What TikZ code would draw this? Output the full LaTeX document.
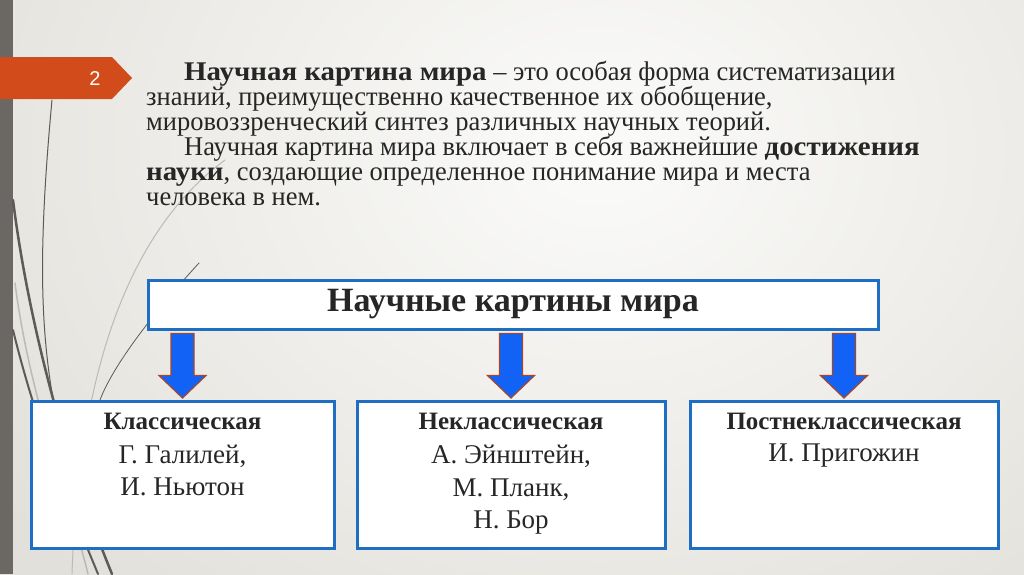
\documentclass[tikz,border=0pt]{standalone}
\usepackage{fontspec}
\setmainfont{Liberation Serif}
\newfontfamily\regcond{Liberation Serif}[FakeStretch=0.98]
\newfontfamily\boldwide{Liberation Serif}[FakeStretch=1.07]
\newfontfamily\numfont{Liberation Sans}
\usetikzlibrary{calc}
\definecolor{bgdark}{HTML}{E2E0DA}
\definecolor{bglight}{HTML}{FBFBFA}
\definecolor{barcol}{HTML}{6B6764}
\definecolor{tagcol}{HTML}{D24B1A}
\definecolor{txt}{HTML}{262626}
\definecolor{boxblue}{HTML}{1E6EC4}
\definecolor{arrfill}{HTML}{1263F5}
\definecolor{arrline}{HTML}{A4452E}
\definecolor{curvedark}{HTML}{5E5A57}
\definecolor{curvelight}{HTML}{BDBAB5}
\newcommand{\bw}[1]{{\boldwide\bfseries #1}}
\begin{document}
\begin{tikzpicture}[x=1pt,y=-1pt,
 para/.style={anchor=base west, inner sep=0pt, text=txt, font=\regcond\fontsize{27}{29}\selectfont},
 boxframe/.style={draw=boxblue, line width=3pt, fill=white, inner sep=0pt},
 headtxt/.style={anchor=base, inner sep=0pt, text=txt, font=\fontsize{25}{27}\selectfont\bfseries},
 nametxt/.style={anchor=base, inner sep=0pt, text=txt, font=\fontsize{27}{29}\selectfont},
 blockarrow/.style={fill=arrfill, draw=arrline, line width=1.2pt, line join=miter},
 decodark/.style={draw=curvedark, line cap=round},
 decolight/.style={draw=curvelight, line cap=round}]
\useasboundingbox (0,0) rectangle (1024,574);
\fill[bgdark] (0,0) rectangle (1024,574);
\begin{scope}
\clip (0,0) rectangle (1024,574);
\shade[inner color=bglight, outer color=bgdark] (-150,-450) rectangle (1350,750);
\end{scope}
% left bar
\fill[barcol] (0,0) rectangle (13,574);
% decorative curves
\draw[decolight, line width=1pt] (225,160) .. controls (150,215) and (80,330) .. (72,574);
\draw[decolight, line width=1.5pt] (15,283) .. controls (30,400) and (70,500) .. (88,574);
\draw[decodark, line width=1pt] (52,100) .. controls (38,250) and (40,330) .. (55,410);
\draw[decodark, line width=2.5pt] (13,200) .. controls (28,320) and (65,460) .. (112,574);
\draw[decodark, line width=2pt] (13,330) .. controls (40,440) and (76,520) .. (98,574);
\draw[decodark, line width=0.8pt] (199,263) .. controls (165,300) and (115,360) .. (100,400);
% slide number tag
\fill[tagcol] (0,57) -- (112,57) -- (132,78) -- (112,99) -- (0,99) -- cycle;
\node[text=white, font=\numfont\fontsize{20}{22}\selectfont, inner sep=0pt] (num) at (95,79) {2};
% paragraph
\node[para] (t1) at (184,80) {\bw{Научная картина мира} – это особая форма систематизации};
\node[para] (t2) at (146,105) {знаний, преимущественно качественное их обобщение,};
\node[para] (t3) at (146,130) {мировоззренческий синтез различных научных теорий.};
\node[para] (t4) at (184,155) {Научная картина мира включает в себя важнейшие \bw{достижения}};
\node[para] (t5) at (146,180) {\bw{науки}, создающие определенное понимание мира и места};
\node[para] (t6) at (146,205) {человека в нем.};
% main box
\node[boxframe, minimum width=730pt, minimum height=49pt, text=txt,
      font=\fontsize{34}{36}\selectfont\bfseries] (main) at (513,304.5) {\raisebox{1pt}{Научные картины мира}};
% child boxes
\node[boxframe, minimum width=303pt, minimum height=147pt] (b1) at (182.5,474.5) {};
\node[boxframe, minimum width=308pt, minimum height=147pt] (b2) at (511,474.5) {};
\node[boxframe, minimum width=308pt, minimum height=147pt] (b3) at (844,474.5) {};
% box texts
\node[headtxt] (h1) at (182.5,429) {Классическая};
\node[nametxt] (n11) at (182.5,463) {Г. Галилей,};
\node[nametxt] (n12) at (182.5,495) {И. Ньютон};
\node[headtxt] (h2) at (511,429) {Неклассическая};
\node[nametxt] (n21) at (511,463) {А. Эйнштейн,};
\node[nametxt] (n22) at (511,496) {М. Планк,};
\node[nametxt] (n23) at (511,528) {Н. Бор};
\node[headtxt] (h3) at (844,429) {Постнеклассическая};
\node[nametxt] (n31) at (844,461) {И. Пригожин};
% block arrows from main box to child boxes
\foreach \b in {b1,b2,b3}{
  \path (\b.north) ++(0,-1.5) coordinate (tip-\b);
  \draw[blockarrow] (tip-\b) -- ++(-23.5,-22.5) -- ++(12,0) -- ++(0,-42) -- ++(23,0) -- ++(0,42) -- ++(12,0) -- cycle;
}
\end{tikzpicture}
\end{document}
